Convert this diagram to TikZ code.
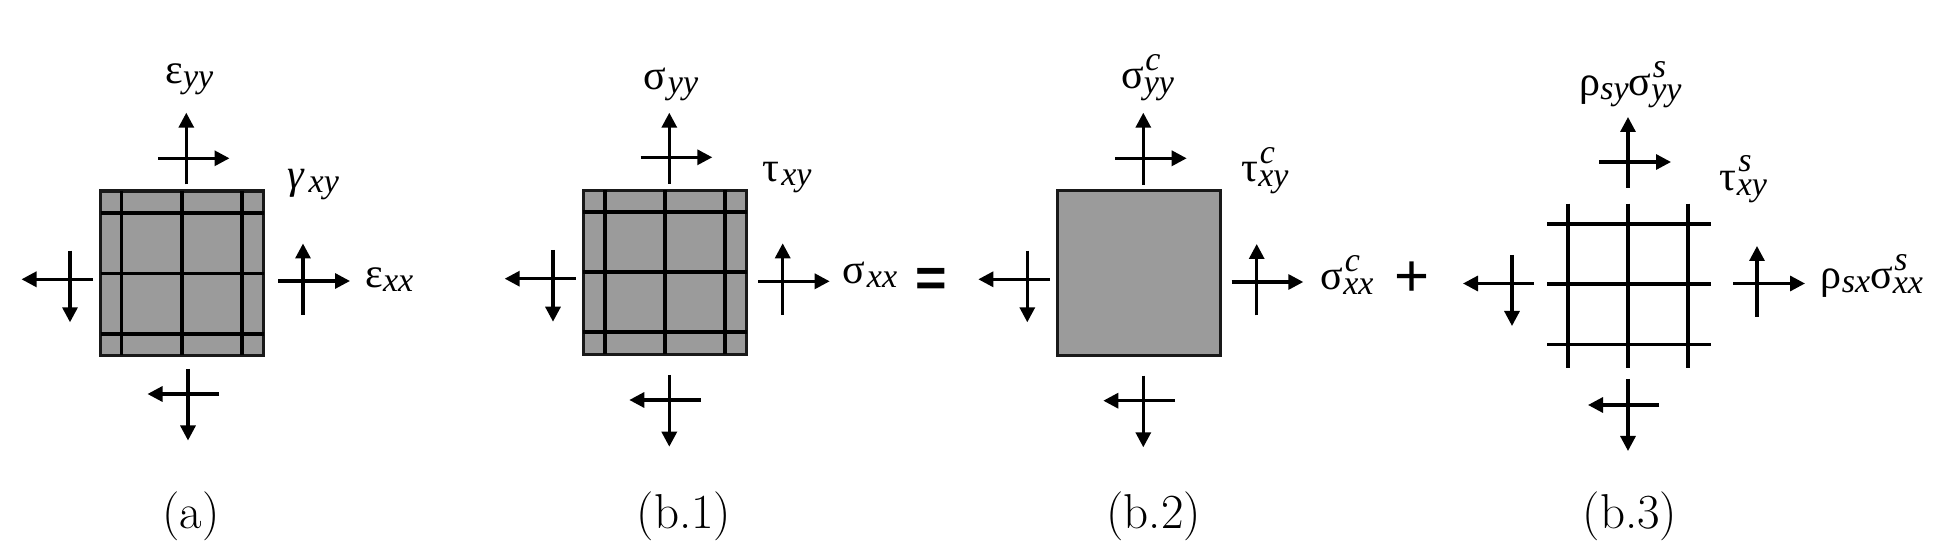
\documentclass[tikz,border=0pt]{standalone}
\usepackage{fontspec}
\usetikzlibrary{arrows.meta}
\newfontfamily\gkf{Liberation Serif}
\newfontfamily\opf{Liberation Sans}
\definecolor{panelgrey}{HTML}{9B9B9B}
\newcommand{\sbx}[1]{\raisebox{-2pt}{\fontsize{17}{18}\selectfont\gkf\itshape #1}}
\newcommand{\sbsp}[2]{\rlap{\raisebox{9.3pt}{\kern0.8pt\fontsize{17}{18}\selectfont\gkf\itshape #2}}\raisebox{-2.5pt}{\fontsize{17}{18}\selectfont\gkf\itshape #1}}
\tikzset{
  arr/.style={line width=1.6pt,-{Triangle[length=7.5pt,width=7.5pt]}},
  grd/.style={line width=1.6pt},
  plate/.style={fill=panelgrey,draw=black!90,line width=1.6pt},
  lab/.style={inner sep=0pt,anchor=base west,font=\fontsize{21}{23}\selectfont\gkf},
  captxt/.style={inner sep=0pt,anchor=base,font=\fontsize{24.5}{27}\selectfont},
}
% cross: x of vertical, y of horizontal, vertical start, vertical end, horizontal start, horizontal end
\newcommand{\crs}[6]{\draw[arr] (#1,#3) -- (#1,#4); \draw[arr] (#5,#2) -- (#6,#2);}
\begin{document}
\begin{tikzpicture}[x=0.5pt,y=-0.5pt]
\useasboundingbox (0,0) rectangle (1950,550);
% panel a
\draw[plate] (100.5,191) rectangle (263.5,355.5);
\foreach \v in {121.5,182,242} \draw[grd] (\v,191) -- (\v,355.5);
\foreach \h in {213,273.5,334} \draw[grd] (100.5,\h) -- (263.5,\h);
\crs{186.3}{158.3}{184.5}{112.7}{158}{229.5}
\crs{70}{279.3}{250.7}{322.3}{93}{21.5}
\crs{303}{281}{315}{243.5}{278}{350}
\crs{188}{394}{369}{440.5}{219}{147.5}
% panel b.1
\draw[plate] (583.2,190.2) rectangle (746.8,354.5);
\foreach \v in {605,665,725} \draw[grd] (\v,190.2) -- (\v,354.5);
\foreach \h in {212,272,332} \draw[grd] (583.2,\h) -- (746.8,\h);
\crs{669.3}{157.3}{184}{112.7}{640.7}{712.3}
\crs{553}{278.7}{250}{321.7}{575.7}{504.7}
\crs{782.7}{281.3}{315}{243.3}{758}{829.7}
\crs{669.3}{400}{375}{446.7}{700.7}{629.3}
% panel b.2
\draw[plate] (1057.5,190.8) rectangle (1220.8,355.2);
\crs{1143.3}{158.3}{185}{112.7}{1115}{1186.7}
\crs{1027.3}{279.3}{250.7}{322.3}{1050}{978.3}
\crs{1256.7}{282}{315.3}{244}{1231.7}{1303.3}
\crs{1143.3}{400.7}{375.7}{447.3}{1175}{1103.3}
% panel b.3
\foreach \v in {1568,1628,1688} \draw[grd] (\v,203.7) -- (\v,368);
\foreach \h in {224,284,344.5} \draw[grd] (1547,\h) -- (1711,\h);
\crs{1628}{162}{188}{117}{1599}{1671}
\crs{1512}{283.5}{255}{326}{1534}{1463}
\crs{1757}{283.5}{317}{246}{1733}{1805}
\crs{1628}{405}{379}{451}{1659}{1588}
% labels
\node[lab] (eyy) at (165,84) {ε\sbx{yy}};
\node[lab] (gxy) at (286.7,189) {{\itshape γ}\kern2.5pt\sbx{xy}};
\node[lab] (exx) at (365,288) {ε\sbx{xx}};
\node[lab] (syy) at (643.5,90) {σ\kern0.7pt\sbx{yy}};
\node[lab] (txy) at (762,182) {τ\kern1pt\sbx{xy}};
\node[lab] (sxx) at (842.5,284) {σ\kern0.7pt\sbx{xx}};
\node[lab,font=\fontsize{27}{27}\selectfont\opf\bfseries] (eq) at (915.5,297) {=};
\node[lab] (syyc) at (1120.8,89) {σ\sbsp{yy}{c}};
\node[lab] (txyc) at (1241,182) {τ\sbsp{xy}{c}};
\node[lab] (sxxc) at (1320.2,290) {σ\sbsp{xx}{c}};
\node[lab,font=\fontsize{30}{30}\selectfont\opf] (pl) at (1394.5,297) {+};
\node[lab] (ryy) at (1579,96) {ρ\sbx{sy}σ\sbsp{yy}{s}};
\node[lab] (txys) at (1719.5,190.5) {τ\sbsp{xy}{s}};
\node[lab] (rxx) at (1820.5,289) {ρ\sbx{sx}σ\sbsp{xx}{s}};
\node[captxt] (ca) at (191,529) {(a)};
\node[captxt] (cb1) at (684,529) {(b.1)};
\node[captxt] (cb2) at (1153.7,529) {(b.2)};
\node[captxt] (cb3) at (1630,529) {(b.3)};
\end{tikzpicture}
\end{document}
